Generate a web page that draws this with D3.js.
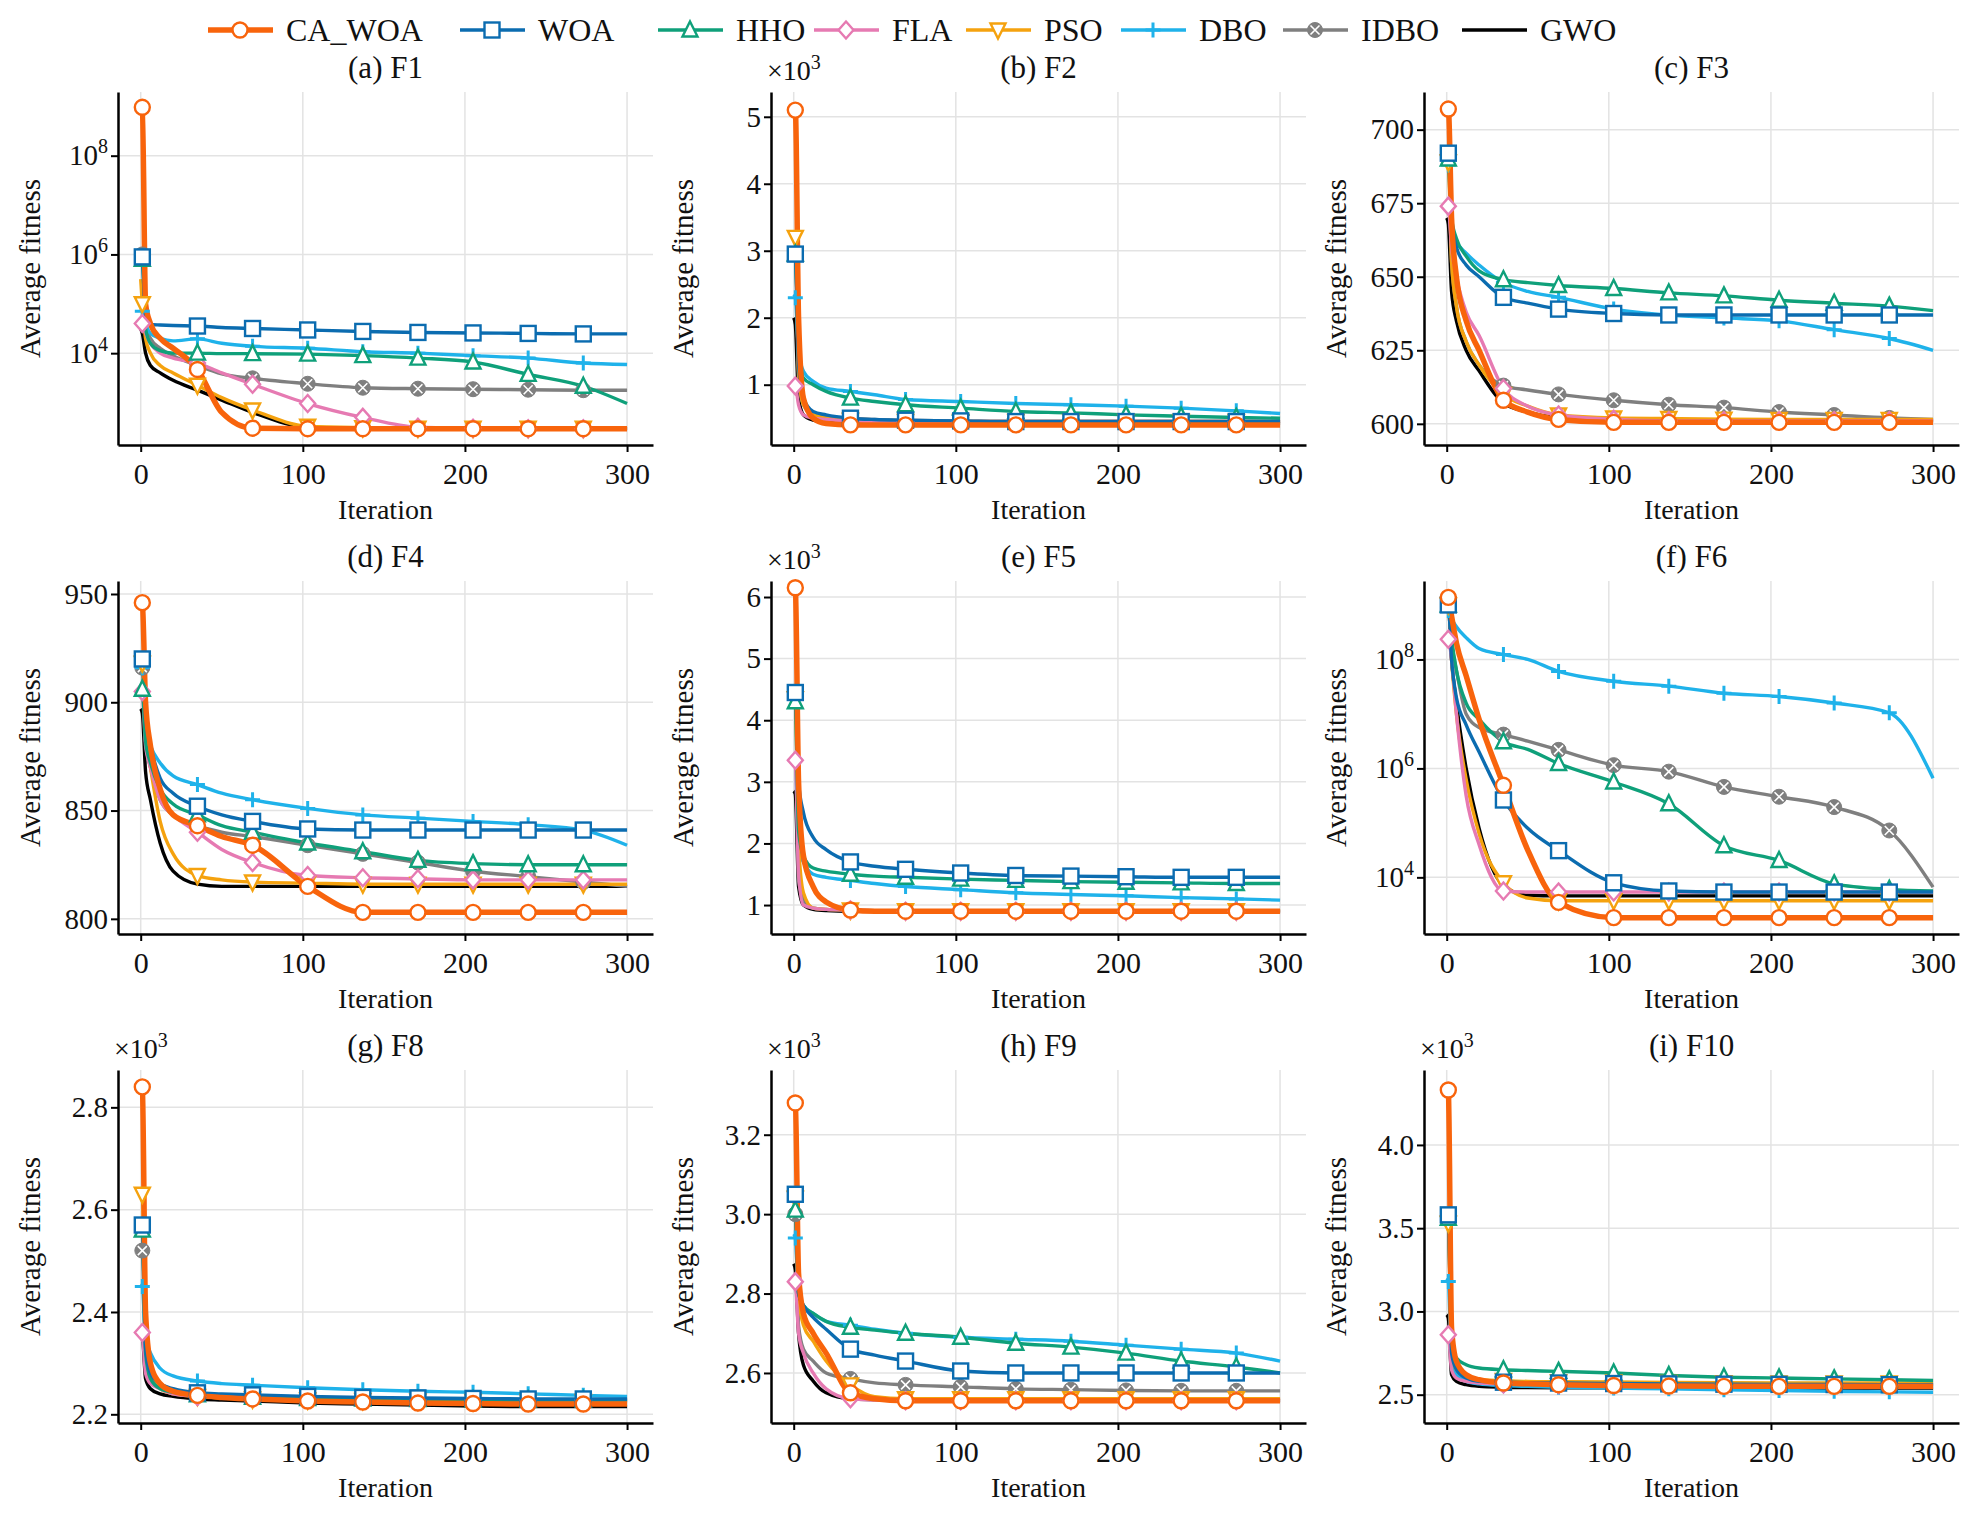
<!DOCTYPE html>
<html>
<head>
<meta charset="utf-8">
<script src="https://cdn.jsdelivr.net/npm/d3@7"></script>
<style>
  body { margin: 0; background: #fff; }
  text { font-family: "Liberation Serif", "DejaVu Serif", serif; fill: #111; }
</style>
</head>
<body>
<svg id="chart" width="1976" height="1518"></svg>
<script>
const iters = [0, 1, 3, 6, 12, 20, 35, 50, 69, 103, 137, 171, 205, 239, 273, 300];
const markerIdx = [1, 6, 8, 9, 10, 11, 12, 13, 14];

const algos = ["CA_WOA", "WOA", "HHO", "FLA", "PSO", "DBO", "IDBO", "GWO"];
const colors = ["#f8640c", "#0b6cb0", "#0fa07a", "#e67ab2", "#f5a20e", "#1fb2ea", "#7f7f7f", "#000000"];
const symbols = ["circle", "square", "triangle", "diamond", "triangleDown", "plus", "xcircle", "none"];

const titles = ["(a) F1", "(b) F2", "(c) F3", "(d) F4", "(e) F5", "(f) F6", "(g) F8", "(h) F9", "(i) F10"];

// F1 and F6: log10 of average fitness
const f1 = [
  [9.0, 8.98, 5.0, 4.6, 4.3, 4.1, 3.67, 2.8, 2.48, 2.47, 2.47, 2.47, 2.47, 2.47, 2.47, 2.47],
  [6.0, 5.95, 4.6, 4.58, 4.57, 4.56, 4.55, 4.52, 4.5, 4.47, 4.44, 4.42, 4.41, 4.4, 4.39, 4.39],
  [5.95, 5.9, 4.5, 4.2, 4.05, 4.0, 4.0, 3.99, 3.99, 3.98, 3.95, 3.9, 3.82, 3.57, 3.33, 2.98],
  [4.7, 4.6, 4.4, 4.2, 4.0, 3.9, 3.8, 3.6, 3.37, 2.98, 2.7, 2.5, 2.48, 2.47, 2.47, 2.47],
  [5.5, 5.0, 4.3, 4.0, 3.75, 3.6, 3.35, 3.1, 2.85, 2.52, 2.49, 2.48, 2.48, 2.48, 2.48, 2.48],
  [4.9, 4.85, 4.6, 4.4, 4.3, 4.25, 4.29, 4.2, 4.14, 4.1, 4.03, 4.0, 3.95, 3.9, 3.8, 3.77],
  [6.05, 6.0, 4.6, 4.3, 4.1, 3.95, 3.75, 3.58, 3.49, 3.38, 3.3, 3.28, 3.27, 3.26, 3.25, 3.25],
  [4.5, 4.4, 4.0, 3.75, 3.6, 3.45, 3.25, 3.05, 2.8, 2.5, 2.48, 2.47, 2.47, 2.47, 2.47, 2.47]
];
const f2 = [
  [5.1, 5.1, 2.0, 0.8, 0.5, 0.42, 0.4, 0.4, 0.4, 0.4, 0.4, 0.4, 0.4, 0.4, 0.4, 0.4],
  [3.0, 2.95, 1.3, 0.8, 0.6, 0.55, 0.5, 0.48, 0.47, 0.46, 0.45, 0.45, 0.45, 0.45, 0.45, 0.45],
  [3.0, 2.95, 1.6, 1.1, 1.0, 0.9, 0.8, 0.75, 0.7, 0.65, 0.6, 0.58, 0.55, 0.53, 0.51, 0.5],
  [1.0, 0.98, 0.7, 0.55, 0.5, 0.48, 0.46, 0.45, 0.45, 0.45, 0.45, 0.45, 0.45, 0.45, 0.45, 0.45],
  [3.25, 3.2, 1.2, 0.7, 0.55, 0.5, 0.47, 0.46, 0.45, 0.45, 0.45, 0.45, 0.45, 0.45, 0.45, 0.45],
  [2.35, 2.3, 1.5, 1.2, 1.05, 0.95, 0.9, 0.85, 0.78, 0.75, 0.72, 0.7, 0.68, 0.65, 0.61, 0.57],
  [3.0, 2.95, 1.1, 0.7, 0.55, 0.52, 0.5, 0.48, 0.47, 0.46, 0.45, 0.45, 0.45, 0.45, 0.45, 0.45],
  [2.0, 1.9, 0.8, 0.55, 0.47, 0.44, 0.42, 0.42, 0.42, 0.42, 0.42, 0.42, 0.42, 0.42, 0.42, 0.42]
];
const f3 = [
  [707, 707, 670, 650, 635, 625, 608, 604, 601.5, 600.5, 600.5, 600.5, 600.5, 600.5, 600.5, 600.5],
  [693, 692, 670, 660, 654, 650, 643, 641, 639, 637.5, 637, 637, 637, 637, 637, 637],
  [692, 690, 670, 663, 657, 652, 649, 648, 647, 646, 644.5, 643.5, 642, 641, 640, 638.5],
  [675, 674, 660, 650, 638, 630, 612, 606, 603, 601.5, 601, 601, 601, 601, 601, 601],
  [690, 689, 655, 640, 628, 620, 610, 606, 603, 602, 601.8, 601.6, 601.5, 601.5, 601.5, 601.5],
  [689, 688, 668, 662, 658, 654, 648, 645, 643, 639, 637, 636, 635, 632, 629, 625],
  [693, 692, 655, 640, 628, 620, 613, 611.5, 610, 608, 606.5, 605.5, 604, 603, 602, 601.5],
  [670, 668, 645, 635, 625, 618, 607, 604, 602, 601, 601, 601, 601, 601, 601, 601]
];
const f4 = [
  [947, 946, 900, 880, 860, 848, 843, 838, 834, 815, 803, 803, 803, 803, 803, 803],
  [921, 920, 892, 880, 865, 858, 852, 848, 845, 841.5, 841, 841, 841, 841, 841, 841],
  [908, 906, 882, 872, 860, 853, 848, 843, 840, 835, 831, 827, 825.5, 825, 825, 825],
  [907, 905, 880, 870, 855, 848, 840, 832, 826, 820, 819, 818.5, 818, 818, 818, 818],
  [920, 918, 885, 870, 845, 830, 820, 818, 817, 816.5, 816, 816, 816, 816, 816, 816],
  [918, 916, 888, 880, 872, 866, 862, 858, 855, 851, 848, 846.5, 845, 843.5, 841, 834],
  [918, 916, 882, 870, 855, 848, 843, 840, 838, 834, 830, 826, 822, 819.5, 817, 815],
  [897, 895, 868, 855, 835, 822, 816, 815, 815, 815, 815, 815, 815, 815, 815, 815]
];
const f5 = [
  [6.2, 6.15, 3.0, 1.8, 1.3, 1.05, 0.92, 0.9, 0.9, 0.9, 0.9, 0.9, 0.9, 0.9, 0.9, 0.9],
  [4.5, 4.45, 3.0, 2.5, 2.1, 1.9, 1.7, 1.63, 1.58, 1.52, 1.48, 1.47, 1.46, 1.45, 1.45, 1.45],
  [4.35, 4.3, 2.2, 1.8, 1.6, 1.55, 1.5, 1.47, 1.45, 1.42, 1.4, 1.38, 1.37, 1.36, 1.35, 1.35],
  [3.4, 3.35, 1.5, 1.0, 0.95, 0.93, 0.92, 0.91, 0.9, 0.9, 0.9, 0.9, 0.9, 0.9, 0.9, 0.9],
  [4.4, 4.35, 2.0, 1.2, 0.95, 0.93, 0.92, 0.91, 0.91, 0.91, 0.91, 0.91, 0.91, 0.91, 0.91, 0.91],
  [3.4, 3.35, 1.9, 1.7, 1.5, 1.45, 1.4, 1.35, 1.3, 1.25, 1.2, 1.17, 1.15, 1.12, 1.1, 1.08],
  [4.5, 4.45, 1.4, 1.1, 0.95, 0.93, 0.92, 0.91, 0.91, 0.91, 0.91, 0.91, 0.91, 0.91, 0.91, 0.91],
  [2.85, 2.8, 1.3, 1.0, 0.93, 0.91, 0.9, 0.9, 0.9, 0.9, 0.9, 0.9, 0.9, 0.9, 0.9, 0.9]
];
const f6 = [
  [9.14, 9.14, 8.8, 8.3, 7.7, 6.9, 5.69, 4.5, 3.54, 3.26, 3.26, 3.26, 3.26, 3.26, 3.26, 3.26],
  [9.0, 9.0, 8.0, 7.3, 6.8, 6.3, 5.42, 4.9, 4.49, 3.9, 3.75, 3.73, 3.73, 3.73, 3.73, 3.73],
  [9.0, 9.0, 8.4, 7.8, 7.2, 6.9, 6.49, 6.35, 6.09, 5.75, 5.35, 4.58, 4.31, 3.88, 3.78, 3.75],
  [8.37, 8.37, 8.0, 7.0, 5.5, 4.6, 3.75, 3.73, 3.73, 3.73, 3.73, 3.73, 3.73, 3.73, 3.73, 3.73],
  [9.0, 9.0, 8.0, 7.0, 5.8, 4.8, 3.9, 3.62, 3.57, 3.57, 3.57, 3.57, 3.57, 3.57, 3.57, 3.57],
  [9.0, 8.9, 8.75, 8.6, 8.4, 8.2, 8.09, 8.0, 7.78, 7.6, 7.51, 7.38, 7.32, 7.2, 7.02, 5.82],
  [9.0, 9.0, 8.3, 7.8, 7.0, 6.75, 6.62, 6.5, 6.34, 6.06, 5.94, 5.66, 5.48, 5.29, 4.86, 3.82],
  [9.0, 9.0, 8.0, 7.2, 6.0, 4.9, 3.85, 3.67, 3.66, 3.66, 3.66, 3.66, 3.66, 3.66, 3.66, 3.66]
];
const f8 = [
  [2.845, 2.84, 2.4, 2.3, 2.26, 2.245, 2.237, 2.233, 2.23, 2.226, 2.224, 2.222, 2.221, 2.22, 2.22, 2.22],
  [2.575, 2.57, 2.33, 2.28, 2.26, 2.25, 2.242, 2.24, 2.238, 2.235, 2.233, 2.232, 2.231, 2.23, 2.23, 2.23],
  [2.57, 2.56, 2.32, 2.27, 2.25, 2.243, 2.238, 2.235, 2.233, 2.231, 2.23, 2.229, 2.228, 2.228, 2.228, 2.228],
  [2.37, 2.36, 2.28, 2.26, 2.25, 2.24, 2.235, 2.233, 2.232, 2.23, 2.229, 2.228, 2.228, 2.228, 2.228, 2.228],
  [2.64, 2.63, 2.35, 2.28, 2.25, 2.24, 2.235, 2.232, 2.23, 2.228, 2.227, 2.226, 2.225, 2.225, 2.225, 2.225],
  [2.455, 2.45, 2.35, 2.32, 2.29, 2.275, 2.265, 2.26, 2.257, 2.252, 2.248, 2.245, 2.243, 2.24, 2.237, 2.235],
  [2.53, 2.52, 2.3, 2.27, 2.255, 2.245, 2.24, 2.237, 2.235, 2.232, 2.23, 2.229, 2.228, 2.228, 2.228, 2.228],
  [2.37, 2.36, 2.27, 2.25, 2.24, 2.235, 2.23, 2.228, 2.226, 2.222, 2.22, 2.218, 2.216, 2.215, 2.215, 2.215]
];
const f9 = [
  [3.285, 3.28, 2.85, 2.75, 2.7, 2.65, 2.55, 2.535, 2.53, 2.53, 2.53, 2.53, 2.53, 2.53, 2.53, 2.53],
  [3.06, 3.05, 2.8, 2.77, 2.74, 2.71, 2.66, 2.645, 2.63, 2.605, 2.6, 2.6, 2.6, 2.6, 2.6, 2.6],
  [3.02, 3.01, 2.8, 2.77, 2.75, 2.73, 2.715, 2.708, 2.7, 2.69, 2.675, 2.665, 2.65, 2.63, 2.615, 2.6],
  [2.84, 2.83, 2.7, 2.65, 2.6, 2.56, 2.535, 2.532, 2.53, 2.53, 2.53, 2.53, 2.53, 2.53, 2.53, 2.53],
  [3.05, 3.04, 2.8, 2.72, 2.68, 2.63, 2.57, 2.54, 2.535, 2.535, 2.535, 2.535, 2.535, 2.535, 2.535, 2.535],
  [2.95, 2.94, 2.8, 2.77, 2.75, 2.73, 2.72, 2.71, 2.7, 2.69, 2.685, 2.68, 2.67, 2.66, 2.65, 2.63],
  [3.02, 3.0, 2.72, 2.66, 2.63, 2.6, 2.585, 2.575, 2.57, 2.565, 2.56, 2.558, 2.556, 2.555, 2.555, 2.555],
  [2.875, 2.86, 2.7, 2.62, 2.58, 2.55, 2.535, 2.533, 2.532, 2.531, 2.53, 2.53, 2.53, 2.53, 2.53, 2.53]
];
const f10 = [
  [4.35, 4.33, 2.9, 2.7, 2.62, 2.59, 2.57, 2.565, 2.56, 2.555, 2.552, 2.55, 2.55, 2.55, 2.55, 2.55],
  [3.6, 3.58, 2.75, 2.65, 2.6, 2.58, 2.575, 2.572, 2.57, 2.567, 2.565, 2.563, 2.562, 2.561, 2.56, 2.56],
  [3.58, 3.56, 2.8, 2.72, 2.68, 2.66, 2.65, 2.645, 2.64, 2.63, 2.615, 2.605, 2.6, 2.595, 2.59, 2.585],
  [2.87, 2.86, 2.65, 2.6, 2.58, 2.57, 2.565, 2.563, 2.562, 2.561, 2.56, 2.56, 2.56, 2.56, 2.56, 2.56],
  [3.55, 3.53, 2.75, 2.65, 2.61, 2.59, 2.585, 2.58, 2.578, 2.576, 2.574, 2.572, 2.571, 2.57, 2.57, 2.57],
  [3.2, 3.18, 2.7, 2.62, 2.58, 2.565, 2.555, 2.55, 2.545, 2.54, 2.535, 2.53, 2.525, 2.52, 2.517, 2.515],
  [3.58, 3.56, 2.7, 2.63, 2.6, 2.58, 2.57, 2.566, 2.563, 2.562, 2.561, 2.56, 2.56, 2.56, 2.56, 2.56],
  [2.98, 2.96, 2.62, 2.58, 2.56, 2.55, 2.545, 2.543, 2.542, 2.541, 2.54, 2.54, 2.54, 2.54, 2.54, 2.54]
];

const panelData = [f1, f2, f3, f4, f5, f6, f8, f9, f10];
// y axis settings per panel: log panels store log10 values
const yDomains = [[2.14, 9.29], [0.1, 5.37], [592.8, 712.8], [793, 956], [0.53, 6.26], [2.96, 9.44], [2.183, 2.873], [2.474, 3.363], [2.33, 4.45]];
const yTicks = [[4, 6, 8], [1, 2, 3, 4, 5], [600, 625, 650, 675, 700], [800, 850, 900, 950], [1, 2, 3, 4, 5, 6],
  [4, 6, 8], [2.2, 2.4, 2.6, 2.8], [2.6, 2.8, 3.0, 3.2], [2.5, 3.0, 3.5, 4.0]];
const yKind = ["log", "e3", "lin", "lin", "e3", "log", "e3", "e3", "e3"];
const yFormat = [null, d3.format("d"), d3.format("d"), d3.format("d"), d3.format("d"), null, d3.format(".1f"), d3.format(".1f"), d3.format(".1f")];
const xTicks = [0, 100, 200, 300];

const svg = d3.select("#chart");
const colLeft = [118, 771, 1424];
const rowTop = [92, 581, 1070];
const pw = 535, ph = 353;

const x = d3.scaleLinear().domain([-14, 316]).range([0, pw]);

function drawMarker(g, sym, color, px, py) {
  const s = 7.5;
  const base = {fill: "#fff", stroke: color, "stroke-width": 2.4};
  let el;
  if (sym === "circle") el = g.append("circle").attr("cx", px).attr("cy", py).attr("r", s);
  else if (sym === "square") el = g.append("rect").attr("x", px - s).attr("y", py - s).attr("width", 2 * s).attr("height", 2 * s);
  else if (sym === "triangle") el = g.append("path").attr("d", `M${px},${py - s - 1}L${px + s},${py + s - 1}L${px - s},${py + s - 1}Z`);
  else if (sym === "triangleDown") el = g.append("path").attr("d", `M${px},${py + s + 1}L${px + s},${py - s + 1}L${px - s},${py - s + 1}Z`);
  else if (sym === "diamond") el = g.append("path").attr("d", `M${px},${py - s - 1}L${px + s},${py}L${px},${py + s + 1}L${px - s},${py}Z`);
  else if (sym === "plus") {
    el = g.append("path").attr("d", `M${px - s},${py}L${px + s},${py}M${px},${py - s}L${px},${py + s}`);
    Object.entries(base).forEach(([k, v]) => el.attr(k, v));
    el.attr("stroke-width", 3);
    return;
  } else if (sym === "xcircle") {
    g.append("circle").attr("cx", px).attr("cy", py).attr("r", s).attr("fill", color).attr("stroke", color);
    const d = s * 0.6;
    g.append("path").attr("d", `M${px - d},${py - d}L${px + d},${py + d}M${px - d},${py + d}L${px + d},${py - d}`)
      .attr("stroke", "#fff").attr("stroke-width", 1.6);
    return;
  } else return;
  Object.entries(base).forEach(([k, v]) => el.attr(k, v));
}

panelData.forEach((series, p) => {
  const col = p % 3, row = Math.floor(p / 3);
  const g = svg.append("g").attr("transform", `translate(${colLeft[col]},${rowTop[row]})`);
  const y = d3.scaleLinear().domain(yDomains[p]).range([ph, 0]);

  // grid
  g.selectAll(".gy").data(yTicks[p]).join("line")
    .attr("x1", 0).attr("x2", pw).attr("y1", d => y(d)).attr("y2", d => y(d))
    .attr("stroke", "#e3e3e3").attr("stroke-width", 1.5);
  g.selectAll(".gx").data(xTicks).join("line")
    .attr("x1", d => x(d)).attr("x2", d => x(d)).attr("y1", 0).attr("y2", ph)
    .attr("stroke", "#e3e3e3").attr("stroke-width", 1.5);

  // lines, CA_WOA drawn last so it sits on top
  const line = d3.line().x((d, i) => x(iters[i])).y(d => y(d)).curve(d3.curveMonotoneX);
  const order = [7, 6, 5, 4, 3, 2, 1, 0];
  order.forEach(k => {
    g.append("path").datum(series[k]).attr("d", line)
      .attr("fill", "none").attr("stroke", colors[k])
      .attr("stroke-width", k === 0 ? 5.5 : 3.4).attr("stroke-linejoin", "round");
  });
  order.forEach(k => {
    markerIdx.forEach(i => drawMarker(g, symbols[k], colors[k], x(iters[i]), y(series[k][i])));
  });

  // axes
  const xAxis = d3.axisBottom(x).tickValues(xTicks).tickSize(7).tickSizeOuter(0);
  const gx = g.append("g").attr("transform", `translate(0,${ph})`).call(xAxis);
  gx.select(".domain").attr("stroke-width", 2.5);
  gx.selectAll(".tick line").attr("stroke-width", 2);
  gx.selectAll("text").attr("font-size", 30).attr("dy", "0.95em")
    .attr("font-family", "Liberation Serif");

  const yAxis = d3.axisLeft(y).tickValues(yTicks[p]).tickSize(7).tickSizeOuter(0);
  if (yKind[p] !== "log") yAxis.tickFormat(yFormat[p]);
  const gy = g.append("g").call(yAxis);
  gy.select(".domain").attr("stroke-width", 2.5);
  gy.selectAll(".tick line").attr("stroke-width", 2);
  gy.selectAll("text").attr("font-size", 29).attr("font-family", "Liberation Serif");
  if (yKind[p] === "log") {
    gy.selectAll(".tick text").text(null).each(function(d) {
      const t = d3.select(this);
      t.append("tspan").text("10");
      t.append("tspan").attr("dy", "-0.6em").attr("font-size", 20).text(d);
    });
  }
  if (yKind[p] === "e3") {
    const t = g.append("text").attr("x", -4).attr("y", -12).attr("font-size", 28);
    t.append("tspan").text("×10");
    t.append("tspan").attr("dy", "-0.55em").attr("font-size", 20).text("3");
  }

  g.append("text").attr("x", pw / 2).attr("y", -14).attr("text-anchor", "middle")
    .attr("font-size", 31).text(titles[p]);
  g.append("text").attr("x", pw / 2).attr("y", ph + 74).attr("text-anchor", "middle")
    .attr("font-size", 28).text("Iteration");
  g.append("text").attr("transform", `translate(-78,${ph / 2}) rotate(-90)`)
    .attr("text-anchor", "middle").attr("font-size", 29).text("Average fitness");
});

// legend
const legendX = [208, 460, 658, 814, 966, 1121, 1283, 1462];
const lg = svg.append("g").attr("transform", "translate(0,30)");
algos.forEach((name, k) => {
  const lx = legendX[k];
  lg.append("line").attr("x1", lx).attr("x2", lx + 65).attr("y1", 0).attr("y2", 0)
    .attr("stroke", colors[k]).attr("stroke-width", k === 0 ? 5.5 : 3.4);
  drawMarker(lg, symbols[k], colors[k], lx + 32, 0);
  lg.append("text").attr("x", lx + 78).attr("y", 11).attr("font-size", 32).text(name);
});
</script>
</body>
</html>
